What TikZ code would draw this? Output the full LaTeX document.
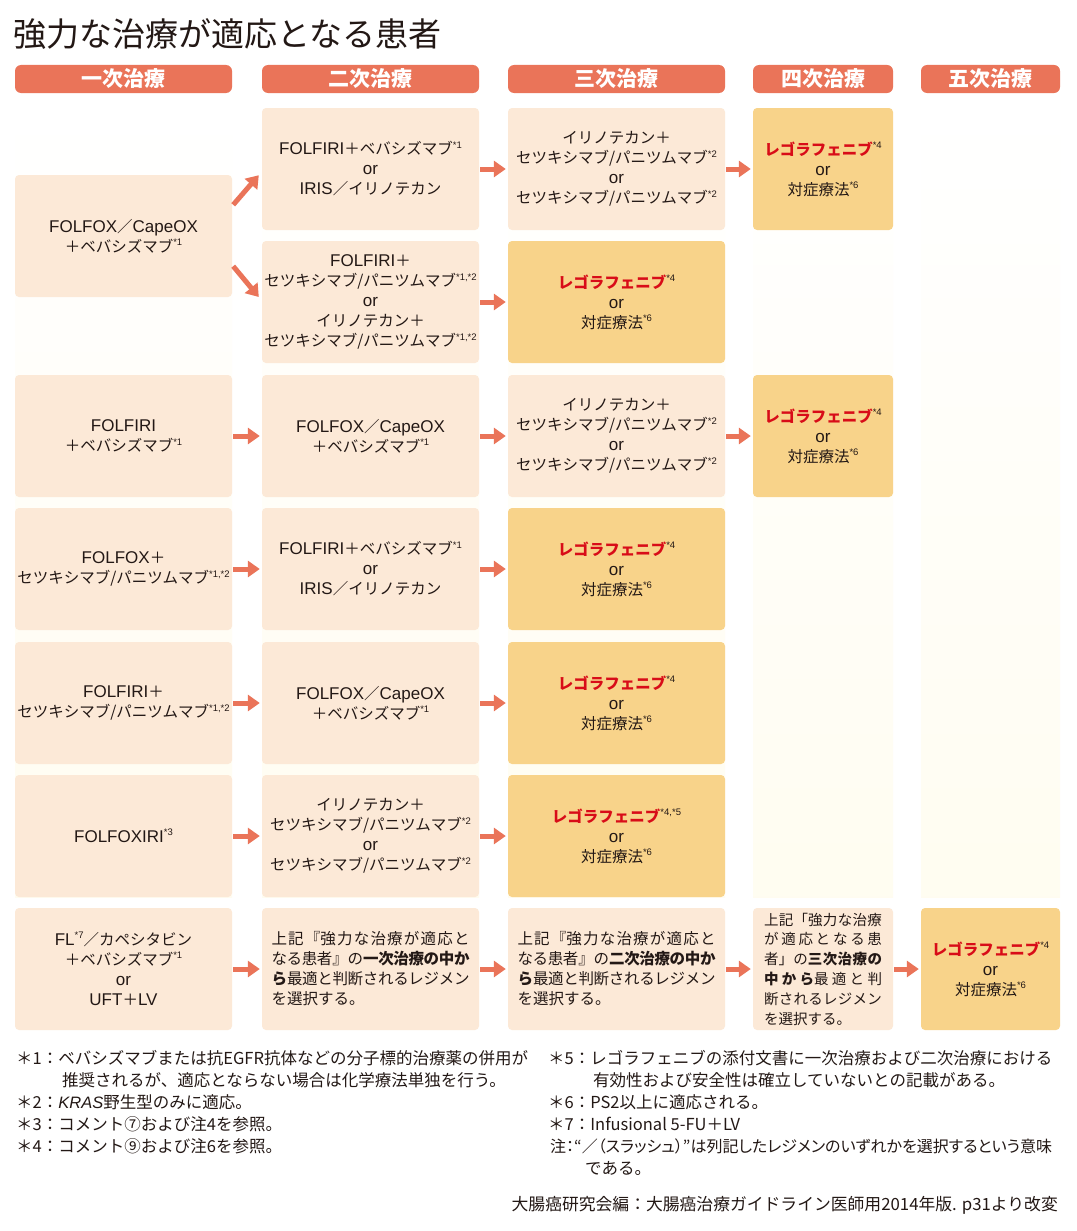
\documentclass[tikz,border=0pt]{standalone}
\usepackage{fontspec}
\setmainfont{Noto Sans CJK JP}
\newfontfamily\libfont{Liberation Sans}
\newfontfamily\paltfont{Noto Sans CJK JP}[RawFeature=+palt]
\usetikzlibrary{arrows.meta,calc}
\XeTeXlinebreaklocale "ja"
\XeTeXlinebreakskip=0pt plus 3pt minus 1pt
\definecolor{peach}{HTML}{FCE9D7}
\definecolor{orng}{HTML}{F8D38A}
\definecolor{hdrc}{HTML}{EA7459}
\definecolor{arrc}{HTML}{EA7459}
\definecolor{regred}{HTML}{D80C18}
\definecolor{txt}{HTML}{231815}
\definecolor{cream}{HTML}{FFFAE2}
\newcommand\su[1]{\raisebox{0.42em}{\libfont\fontsize{9.5}{9.5}\selectfont #1}}
\newcommand\lt[1]{{\libfont\fontsize{17}{20}\selectfont #1}}
\newcommand\rgf{{\color{regred}\bfseries レゴラフェニブ}}
\newcommand\jl[2]{\parbox[t]{#1}{\XeTeXlinebreakpenalty=10000 \parindent=0pt\leftskip=0pt\rightskip=0pt\parfillskip=0pt\relax #2\par}}
\newcommand\jla[1]{\jl{198pt}{#1}}
\newcommand\jlb[1]{\jl{118pt}{#1}}
\newcommand\ortt{\lt{or}}
\tikzset{
  box/.style={rounded corners=4pt, inner sep=0pt, align=center, text=txt,
    font=\fontsize{15.5}{20}\selectfont},
  lbox/.style={box, fill=peach},
  obox/.style={box, fill=orng},
  wide/.style={minimum width=217pt, minimum height=122pt},
  narrow/.style={minimum width=140pt, minimum height=122pt},
  hdr/.style={fill=hdrc, rounded corners=6pt, minimum height=28pt, inner sep=0pt,
    text=white, font=\fontsize{21}{21}\selectfont\bfseries},
  arr/.style={draw=arrc, line width=5pt, -{Triangle[length=12pt,width=16pt]},
    shorten >=2pt, shorten <=1pt},
  arrd/.style={draw=arrc, line width=5pt, -{Triangle[length=12pt,width=16pt]}},
  fn/.style={anchor=west, inner sep=0pt, text=txt, font=\fontsize{16.5}{22}\selectfont},
}
\begin{document}
\begin{tikzpicture}[x=1pt,y=-1pt]
\useasboundingbox (0,0) rectangle (1076,1231);
\fill[white] (0,0) rectangle (1076,1231);
% background strips
\foreach \xa/\xb in {15/232, 262/479, 508/725, 753/893, 921/1060}{
  \fill[top color=white, middle color=cream, bottom color=cream!50!white] (\xa,107) rectangle (\xb,897);
}
% title
\node[anchor=west, inner sep=0pt, text=txt, font=\fontsize{33}{33}\selectfont] (title) at (13,34) {強力な治療が適応となる患者};
% headers
\node[hdr, minimum width=217pt] (h1) at (123.5,79) {一次治療};
\node[hdr, minimum width=217pt] (h2) at (370.5,79) {二次治療};
\node[hdr, minimum width=217pt] (h3) at (616.5,79) {三次治療};
\node[hdr, minimum width=140pt] (h4) at (823,79) {四次治療};
\node[hdr, minimum width=139pt] (h5) at (990.5,79) {五次治療};

% row A
\node[lbox, wide] (a1) at (123.5,236) {\lt{FOLFOX}／\lt{CapeOX}\\＋ベバシズマブ\su{*1}};
\node[lbox, wide] (a2u) at (370.5,169) {\lt{FOLFIRI}＋ベバシズマブ\su{*1}\\\ortt\\\lt{IRIS}／イリノテカン};
\node[lbox, wide] (a2l) at (370.5,302) {\lt{FOLFIRI}＋\\セツキシマブ/パニツムマブ\su{*1,*2}\\\ortt\\イリノテカン＋\\セツキシマブ/パニツムマブ\su{*1,*2}};
\node[lbox, wide] (a3u) at (616.5,169) {イリノテカン＋\\セツキシマブ/パニツムマブ\su{*2}\\\ortt\\セツキシマブ/パニツムマブ\su{*2}};
\node[obox, wide] (a3l) at (616.5,302) {\rgf\su{*4}\\\ortt\\対症療法\su{*6}};
\node[obox, narrow] (a4u) at (823,169) {\rgf\su{*4}\\\ortt\\対症療法\su{*6}};

% row 2
\node[lbox, wide] (b1) at (123.5,436) {\lt{FOLFIRI}\\＋ベバシズマブ\su{*1}};
\node[lbox, wide] (b2) at (370.5,436) {\lt{FOLFOX}／\lt{CapeOX}\\＋ベバシズマブ\su{*1}};
\node[lbox, wide] (b3) at (616.5,436) {イリノテカン＋\\セツキシマブ/パニツムマブ\su{*2}\\\ortt\\セツキシマブ/パニツムマブ\su{*2}};
\node[obox, narrow] (b4) at (823,436) {\rgf\su{*4}\\\ortt\\対症療法\su{*6}};

% row 3
\node[lbox, wide] (c1) at (123.5,569) {\lt{FOLFOX}＋\\セツキシマブ/パニツムマブ\su{*1,*2}};
\node[lbox, wide] (c2) at (370.5,569) {\lt{FOLFIRI}＋ベバシズマブ\su{*1}\\\ortt\\\lt{IRIS}／イリノテカン};
\node[obox, wide] (c3) at (616.5,569) {\rgf\su{*4}\\\ortt\\対症療法\su{*6}};

% row 4
\node[lbox, wide] (d1) at (123.5,703) {\lt{FOLFIRI}＋\\セツキシマブ/パニツムマブ\su{*1,*2}};
\node[lbox, wide] (d2) at (370.5,703) {\lt{FOLFOX}／\lt{CapeOX}\\＋ベバシズマブ\su{*1}};
\node[obox, wide] (d3) at (616.5,703) {\rgf\su{*4}\\\ortt\\対症療法\su{*6}};

% row 5
\node[lbox, wide] (e1) at (123.5,836) {\lt{FOLFOXIRI}\su{*3}};
\node[lbox, wide] (e2) at (370.5,836) {イリノテカン＋\\セツキシマブ/パニツムマブ\su{*2}\\\ortt\\セツキシマブ/パニツムマブ\su{*2}};
\node[obox, wide] (e3) at (616.5,836) {\rgf\su{*4,*5}\\\ortt\\対症療法\su{*6}};

% row 6
\node[lbox, wide] (g1) at (123.5,969) {\lt{FL}\su{*7}／カペシタビン\\＋ベバシズマブ\su{*1}\\\ortt\\\lt{UFT}＋\lt{LV}};
\node[lbox, wide, align=left] (g2) at (370.5,969) {\jla{上記『強力な治療が適応と}\\\jla{なる患者』の{\bfseries 一次治療の中か}}\\\jla{{\bfseries ら}最適と判断されるレジメン}\\を選択する。};
\node[lbox, wide, align=left] (g3) at (616.5,969) {\jla{上記『強力な治療が適応と}\\\jla{なる患者』の{\bfseries 二次治療の中か}}\\\jla{{\bfseries ら}最適と判断されるレジメン}\\を選択する。};
\node[lbox, narrow, align=left, font=\fontsize{14.5}{19.8}\selectfont] (g4) at (823,969) {\jlb{上記「強力な治療}\\\jlb{が適応となる患}\\\jlb{者」の{\bfseries 三次治療の}}\\\jlb{{\bfseries 中から}最適と判}\\\jlb{断されるレジメン}\\を選択する。};
\node[obox, minimum width=139pt, minimum height=122pt] (g5) at (990.5,969) {\rgf\su{*4}\\\ortt\\対症療法\su{*6}};

% arrows
\draw[arrd] ($(a1.north east)+(1,30)$) -- ($(a2u.south west)+(-3,-55)$);
\draw[arrd] ($(a1.south east)+(1,-31)$) -- ($(a2l.west)+(-3,-5)$);
\draw[arr] (a2u) -- (a3u);
\draw[arr] (a3u) -- (a4u);
\draw[arr] (a2l) -- (a3l);
\draw[arr] (b1) -- (b2);
\draw[arr] (b2) -- (b3);
\draw[arr] (b3) -- (b4);
\draw[arr] (c1) -- (c2);
\draw[arr] (c2) -- (c3);
\draw[arr] (d1) -- (d2);
\draw[arr] (d2) -- (d3);
\draw[arr] (e1) -- (e2);
\draw[arr] (e2) -- (e3);
\draw[arr] (g1) -- (g2);
\draw[arr] (g2) -- (g3);
\draw[arr] (g3) -- (g4);
\draw[arr] (g4) -- (g5);

% footnotes
\node[fn] (f1) at (16,1058) {＊1：ベバシズマブまたは抗EGFR抗体などの分子標的治療薬の併用が};
\node[fn] (f1b) at (62,1080) {推奨されるが、適応とならない場合は化学療法単独を行う。};
\node[fn] (f2) at (16,1102) {＊2：{\libfont\itshape KRAS}野生型のみに適応。};
\node[fn] (f3) at (16,1124) {＊3：コメント⑦および注4を参照。};
\node[fn] (f4) at (16,1146) {＊4：コメント⑨および注6を参照。};
\node[fn] (f5) at (548,1058) {＊5：レゴラフェニブの添付文書に一次治療および二次治療における};
\node[fn] (f5b) at (593,1080) {有効性および安全性は確立していないとの記載がある。};
\node[fn] (f6) at (548,1102) {＊6：PS2以上に適応される。};
\node[fn] (f7) at (548,1124) {＊7：Infusional 5-FU＋LV};
\node[fn, font=\fontsize{16}{22}\paltfont] (f8) at (550,1146) {注：“／（スラッシュ）”は列記したレジメンのいずれかを選択するという意味};
\node[fn] (f8b) at (585,1168) {である。};
\node[fn, anchor=east, font=\fontsize{16.8}{22}\selectfont] (src) at (1058,1205) {大腸癌研究会編：大腸癌治療ガイドライン医師用2014年版. p31より改変};
\end{tikzpicture}
\end{document}
